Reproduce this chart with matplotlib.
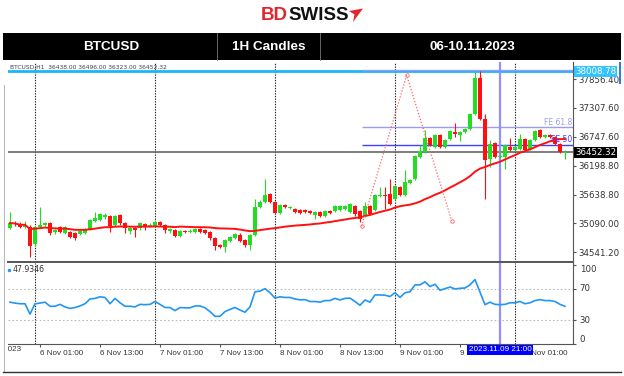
import matplotlib
matplotlib.use("Agg")
import matplotlib.pyplot as plt
from matplotlib.patches import Rectangle, Polygon
from matplotlib.transforms import Bbox, TransformedBbox, blended_transform_factory
import numpy as np
import pandas as pd

# BTCUSD H1 candles, first bar 5 Nov 2023 19:00
first_bar = "2023-11-05 19:00"
opens = [35001, 35097, 35077, 35020, 35020, 34694, 35020, 35058, 35097, 34924,
         35020, 34905, 34924, 34905, 34886, 34905, 34982, 35135, 35154, 35212,
         35231, 35058, 35250, 35097, 34943, 35001, 35001, 35077, 35039, 35039,
         35116, 35058, 34943, 34962, 34847, 34943, 34924, 34924, 34982, 34962,
         34924, 34809, 34675, 34637, 34752, 34809, 34867, 34771, 34675, 34867,
         35403, 35499, 35652, 35499, 35288, 35442, 35384, 35365, 35346, 35346,
         35327, 35250, 35307, 35231, 35327, 35327, 35346, 35365, 35307, 35423,
         35327, 35231, 35423, 35346, 35614, 35633, 35652, 35557, 35786, 35633,
         35863, 35940, 36361, 36457, 36726, 36553, 36783, 36553, 36707, 36841,
         36783, 36841, 36898, 37185, 37875, 37090, 36323, 36630, 36361, 36361,
         36553, 36496, 36515, 36707, 36515, 36687, 36879, 36745, 36783, 36745,
         36611, 36438]
highs = [35307, 35135, 35116, 35135, 35058, 35039, 35403, 35116, 35116, 34982,
         35039, 35039, 34943, 34924, 34962, 35001, 35173, 35307, 35288, 35288,
         35250, 35250, 35269, 35116, 35020, 35020, 35116, 35097, 35097, 35154,
         35135, 35077, 35001, 34982, 34962, 34962, 34982, 35001, 35001, 34982,
         34943, 34828, 34694, 34790, 34847, 34905, 34905, 34790, 34886, 35557,
         35537, 35940, 35671, 35518, 35461, 35461, 35423, 35384, 35365, 35365,
         35346, 35327, 35327, 35346, 35346, 35442, 35442, 35442, 35480, 35442,
         35346, 35499, 35442, 35652, 35786, 35786, 35940, 35825, 35806, 36112,
         35940, 36400, 36591, 36879, 36745, 36802, 36802, 36707, 36879, 37013,
         36860, 36917, 37205, 37990, 38008.78, 37185, 36687, 36649, 36496, 36611,
         36726, 36572, 36802, 36726, 36707, 36879, 36898, 36802, 36802, 36764,
         36630, 36496]
lows = [34982, 35039, 35001, 35001, 34440, 34656, 35001, 35039, 34867, 34886,
        34905, 34886, 34809, 34771, 34867, 34886, 34962, 35116, 35135, 35173,
        34924, 35039, 35058, 34905, 34886, 34828, 34962, 34962, 35020, 35020,
        35039, 34905, 34905, 34828, 34828, 34905, 34905, 34905, 34905, 34886,
        34771, 34579, 34617, 34541, 34732, 34790, 34732, 34637, 34579, 34847,
        35384, 35480, 35480, 35269, 35269, 35384, 35365, 35288, 35269, 35288,
        35269, 35173, 35212, 35212, 35269, 35307, 35327, 35346, 35288, 35231,
        35116, 35212, 35250, 35327, 35595, 35365, 35442, 35537, 35614, 35614,
        35844, 35921, 36342, 36438, 36572, 36534, 36534, 36534, 36687, 36745,
        36668, 36821, 36879, 37166, 37071, 35557, 36170, 36342, 36342, 36131,
        36477, 36477, 36496, 36477, 36496, 36668, 36726, 36726, 36726, 36591,
        36438, 36323]
closes = [35097, 35077, 35020, 35058, 34656, 35020, 35058, 35097, 34905, 34962,
          34924, 35020, 34828, 34809, 34943, 34982, 35154, 35192, 35269, 35250,
          35039, 35231, 35097, 35001, 35001, 34962, 35097, 35020, 35058, 35116,
          35058, 34962, 34982, 34847, 34943, 34924, 34943, 34982, 34924, 34905,
          34809, 34656, 34637, 34771, 34828, 34886, 34752, 34675, 34867, 35403,
          35499, 35633, 35499, 35288, 35442, 35403, 35403, 35307, 35288, 35307,
          35288, 35307, 35231, 35327, 35288, 35423, 35423, 35423, 35461, 35269,
          35173, 35423, 35269, 35633, 35633, 35614, 35461, 35806, 35633, 35882,
          35921, 36381, 36477, 36726, 36591, 36783, 36553, 36687, 36860, 36802,
          36841, 36898, 37185, 37875, 37090, 36304, 36611, 36361, 36381, 36591,
          36496, 36553, 36707, 36496, 36687, 36860, 36745, 36783, 36745, 36611,
          36457, 36452.32]
rsi = [53.2, 52.0, 51.2, 51.2, 38.0, 51.2, 52.0, 53.2, 48.0, 48.0,
       50.4, 47.2, 45.2, 46.4, 48.4, 51.2, 57.2, 58.0, 60.0, 59.2,
       51.2, 58.0, 52.4, 48.0, 48.0, 47.2, 50.4, 50.0, 50.4, 54.0,
       50.4, 46.4, 46.4, 42.4, 46.4, 46.0, 46.0, 48.4, 48.4, 46.0,
       41.2, 35.2, 35.2, 41.2, 44.0, 46.4, 43.2, 40.4, 47.2, 66.4,
       67.2, 70.4, 65.2, 58.4, 60.0, 59.2, 59.2, 57.2, 56.2, 56.4,
       54.0, 54.0, 53.2, 55.2, 55.2, 58.0, 56.0, 58.0, 58.4, 54.0,
       49.2, 56.0, 53.2, 62.4, 62.4, 62.0, 60.4, 65.2, 59.2, 65.2,
       66.4, 75.2, 75.2, 79.1, 73.1, 76.0, 68.3, 70.4, 72.4, 70.0,
       70.8, 71.2, 75.2, 82.0, 66.0, 50.0, 53.2, 50.4, 50.0, 50.4,
       52.4, 52.4, 54.0, 51.2, 52.4, 55.2, 56.4, 55.2, 55.2, 54.0,
       50.4, 47.9346]

ma_period = 30
price_ticks = [37856.40, 37307.60, 36747.60, 36198.80, 35638.80, 35090.00, 34541.20]
rsi_ticks = [100, 70, 30, 0]
high_line = 38008.78
bid_line = 36452.32
# fibo expansion anchor points (bar, price)
fe_a = (70.34, 35034)
fe_b = (79.34, 37927)
fe_c = (88.34, 35141)
fe_levels = [50.0, 61.8, 100.0]
cross_time = "2023-11-09 21:00"

GREEN = "#22dd22"
RED = "#ff1010"

o = np.array(opens, float)
h = np.array(highs, float)
l = np.array(lows, float)
c = np.array(closes, float)
idx = np.arange(len(c))
times = pd.date_range(first_bar, periods=len(c), freq="h")

W, H = 624, 376
fig = plt.figure(figsize=(W / 100, H / 100), dpi=100, facecolor="white")


def fbox(x0, y0, x1, y1):
    return [x0 / W, 1 - y1 / H, (x1 - x0) / W, (y1 - y0) / H]


# decorations (header, frame)
deco = fig.add_axes([0, 0, 1, 1])
deco.set_xlim(0, W)
deco.set_ylim(H, 0)
deco.axis("off")
deco.add_patch(Rectangle((3, 33), 618, 27, fc="black", ec="none"))
for xd in (217, 320):
    deco.plot([xd, xd], [33, 60], color="#777777", lw=0.6)
hdr = dict(color="white", fontsize=9.7, weight="bold", family="Liberation Sans",
           ha="center", va="center")
deco.text(111, 47, "BTCUSD", **hdr)
deco.text(269, 47, "1H Candles", **hdr)
deco.text(472, 47, "06-10.11.2023", **hdr)
deco.text(288, 15.5, "BD", color="#e3262e", fontsize=13.5, weight="bold",
          family="Liberation Sans", ha="right", va="center")
deco.text(288, 15.5, "SWISS", color="#111111", fontsize=13.5, weight="bold",
          family="Liberation Sans", ha="left", va="center")
deco.add_patch(Polygon([(349, 11), (363, 8.5), (353, 22), (354.5, 14.5)],
                       fc="#e3262e", ec="none"))
deco.plot([3.5, 3.5], [85, 372], color="#bbbbbb", lw=0.8)
deco.plot([3, 621], [372, 372], color="#333333", lw=1)
deco.add_patch(Rectangle((619, 62), 2, 22, fc="#3a78d8", ec="none"))

ax = fig.add_axes(fbox(8, 62, 573, 262))
axr = fig.add_axes(fbox(8, 263, 573, 344), sharex=ax)
for a in (ax, axr):
    a.set_facecolor("white")
    a.spines["left"].set_visible(False)
    a.spines["top"].set_visible(False)
    for s in ("right", "bottom"):
        a.spines[s].set_color("#555555")
ax.spines["bottom"].set_linewidth(1.4)

ax.set_xlim(-0.4, 112.6)
ax.set_ylim(34349.6, 38182.2)
axr.set_ylim(3, 103)

# candles
col = np.where(c >= o, GREEN, RED)
ax.vlines(idx, l, h, colors=col, lw=0.8, zorder=3)
body = np.maximum(np.abs(c - o), 12)
ax.bar(idx, body, bottom=np.minimum(o, c), width=0.62, color=col, lw=0, zorder=4)

ma = pd.Series(c).rolling(ma_period, min_periods=1).mean()
ax.plot(idx, ma, color=RED, lw=1.4, zorder=5)

ax.axhline(high_line, color="#19b5fe", lw=2, zorder=2)
ax.axhline(bid_line, color="#5a5a5a", lw=1.1, zorder=2)

# fibo expansion
fe_cols = {50.0: "#4040ff", 61.8: "#9c9cf0", 100.0: "#9c9cf0"}
for lev in fe_levels:
    yv = fe_c[1] + (fe_b[1] - fe_a[1]) * lev / 100
    ax.hlines(yv, fe_a[0], 112.6, color=fe_cols[lev], lw=1, zorder=2)
    if lev < 100:
        ax.text(112.4, yv + 15, f"FE {lev:g}", ha="right", va="bottom",
                fontsize=5.5, color=fe_cols[lev], zorder=6)
tx = [fe_a[0], fe_b[0], fe_c[0]]
ty = [fe_a[1], fe_b[1], fe_c[1]]
ax.plot(tx, ty, ls=(0, (1, 1.5)), color="#ff6464", lw=0.9, zorder=6)
ax.plot(tx, ty, "o", ms=2.5, mfc="none", mec="#ff6464", mew=0.6, zorder=6)

ax.text(0.004, 0.975,
        f"BTCUSD,H1  {o[-1]:.2f} {h[-1]:.2f} {l[-1]:.2f} {c[-1]:.2f}",
        transform=ax.transAxes, fontsize=4.3, color="#444444", va="center", zorder=7)

# separators and crosshair
day_starts = idx[times.hour == 0]
cross = idx[times == pd.Timestamp(cross_time)][0]
for a in (ax, axr):
    for d in day_starts:
        a.axvline(d, color="#222222", ls=(0, (1.2, 1.2)), lw=0.8, zorder=1)
    a.axvline(cross, color="#9090ff", lw=1.6, zorder=2)

# price axis
ax.yaxis.tick_right()
ax.set_yticks(price_ticks)
ax.set_yticklabels([f"{v:.2f}" for v in price_ticks])
ax.tick_params(axis="y", length=2.5, width=0.8, color="#555555", pad=1.5,
               labelsize=6.2, labelcolor="#333333")
ax.tick_params(axis="x", bottom=False, labelbottom=False)
btr = blended_transform_factory(ax.transAxes, ax.transData)
ax.text(1.004, high_line, f"{high_line:.2f}", transform=btr, ha="left", va="center",
        fontsize=6.2, color="white", clip_on=False, zorder=8,
        bbox=dict(boxstyle="square,pad=0.12", fc="#33c3ff", ec="none"))
ax.text(1.004, bid_line, f"{bid_line:.2f}", transform=btr, ha="left", va="center",
        fontsize=6.2, color="white", clip_on=False, zorder=8,
        bbox=dict(boxstyle="square,pad=0.12", fc="black", ec="none"))

# RSI panel
axr.plot(idx, rsi, color="#2196f3", lw=1.2, zorder=3)
for lev in (70, 30):
    axr.axhline(lev, color="#bbbbbb", ls=(0, (1.5, 2)), lw=0.8, zorder=1)
axr.yaxis.tick_right()
axr.set_yticks(rsi_ticks)
axr.tick_params(axis="y", length=2.5, width=0.8, color="#555555", labelright=False)
rtr = blended_transform_factory(axr.transAxes, axr.transData)
va_map = {100: "top", 0: "bottom"}
for v in rsi_ticks:
    axr.text(1.012, v, str(v), transform=rtr, ha="left", va=va_map.get(v, "center"),
             fontsize=6.2, color="#333333", clip_on=False)
axr.text(0.008, 0.915, f"{rsi[-1]:.4f}", transform=axr.transAxes, fontsize=5.6,
         color="#333333", va="center")
axr.plot([0.002], [0.915], "o", ms=1.5, color="#2196f3", transform=axr.transAxes,
         clip_on=False)

# time axis
tick_idx = idx[(times.hour == 1) | (times.hour == 13)]
tick_lab = [f"{t.day} {t:%b} {t:%H:%M}" for t in times[tick_idx]]
axr.set_xticks(tick_idx)
axr.set_xticklabels(tick_lab, ha="left", family="Liberation Sans", fontsize=5.8,
                    color="#333333")
axr.tick_params(axis="x", length=2.2, width=0.8, color="#555555", pad=2.0)
xtr = axr.get_xaxis_transform()
t0 = times[0] - pd.Timedelta(hours=6)
lab0 = axr.text(-6, -0.03, f"{t0.day} {t0:%b} {t0:%Y}", transform=xtr, ha="left",
                va="top", family="Liberation Sans", fontsize=5.8, color="#333333")
lab0.set_clip_box(TransformedBbox(Bbox.from_extents(8 / W, 0, 1, 1), fig.transFigure))
lab0.set_clip_on(True)
axr.text(cross, -0.03, pd.Timestamp(cross_time).strftime("%Y.%m.%d %H:%M"),
         transform=xtr, ha="center", va="top", family="Liberation Sans",
         fontsize=5.9, color="white", zorder=10, clip_on=False,
         bbox=dict(boxstyle="square,pad=0.2", fc="#0000ff", ec="none"))

fig.savefig("out.png", dpi=100, facecolor="white")
